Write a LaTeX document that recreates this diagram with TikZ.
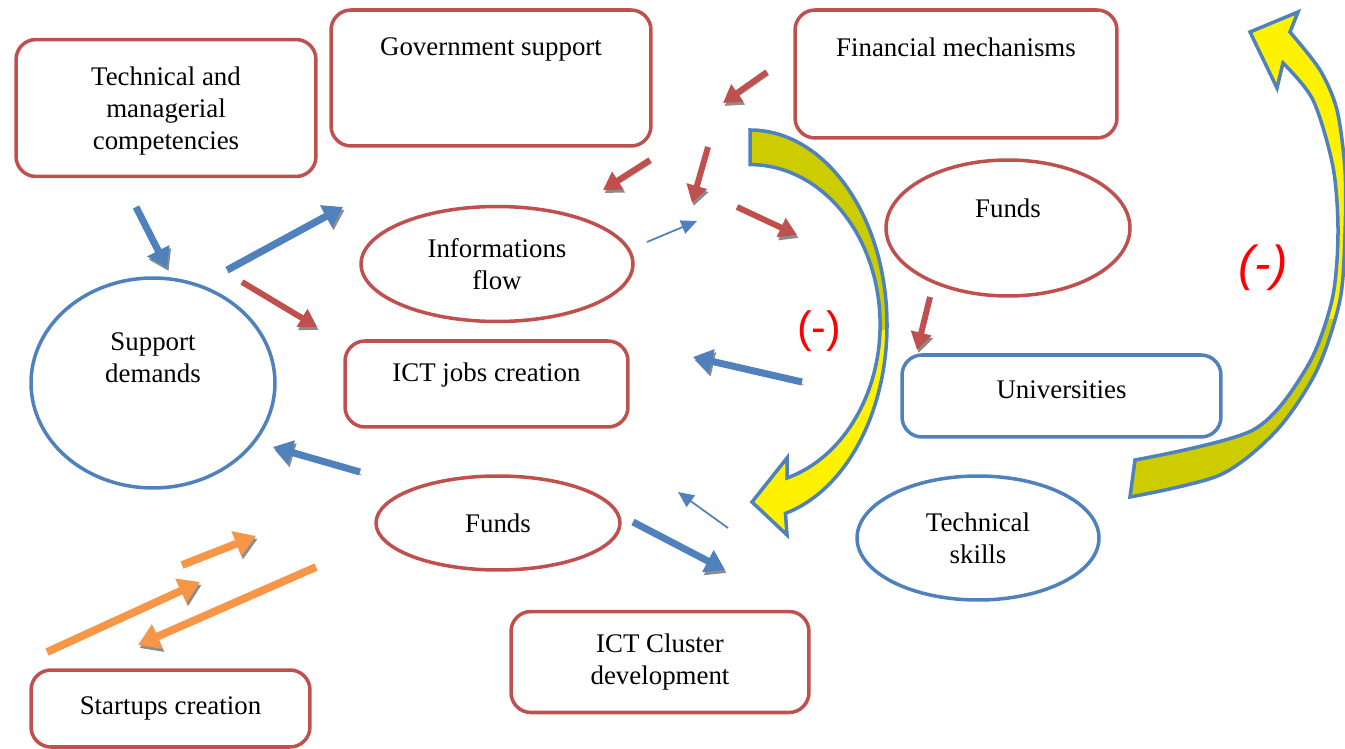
\documentclass[tikz,border=0pt]{standalone}
\usepackage{fontspec}
\setmainfont{Liberation Serif}
\newfontfamily\signfont{Liberation Sans}
\usetikzlibrary{arrows.meta,shapes.geometric}
\definecolor{bxred}{RGB}{192,80,77}
\definecolor{bxblue}{RGB}{79,129,189}
\definecolor{bxorange}{RGB}{247,150,70}
\definecolor{bxolive}{RGB}{204,204,0}
\def\boxfont{\fontsize{15.3}{18.2}\selectfont}
\tikzset{
  redbox/.style={draw=bxred, line width=2pt, rounded corners=0.4cm, align=center, font=\boxfont, inner sep=0pt},
  bluebox/.style={redbox, draw=bxblue},
  redell/.style={draw=bxred, line width=2pt, ellipse, align=center, font=\boxfont, inner sep=0pt},
  blueell/.style={redell, draw=bxblue},
  shadowed/.style={preaction={draw=black!45, transform canvas={shift={(0.9pt,-1.7pt)}}}},
  bluearr/.style={shadowed, draw=bxblue, line width=4pt, -{Triangle[width=13.5pt,length=11pt]}},
  redarr/.style={shadowed, draw=bxred, line width=3.4pt, -{Triangle[width=11.5pt,length=10pt]}},
  orangearr/.style={shadowed, draw=bxorange, line width=4.4pt, -{Triangle[width=14.5pt,length=12pt]}},
  thinarr/.style={draw=bxblue, line width=1pt, -{Triangle[width=8pt,length=9pt]}},
  loopedge/.style={draw=bxblue, line width=2pt, line join=miter},
  minus/.style={text=red, font=\signfont\fontsize{25}{30}\selectfont}
}

\begin{document}
\begin{tikzpicture}[x=0.02cm,y=-0.02cm]
				%%%%% START %%%%%
				\useasboundingbox (0,0) rectangle (1345,749);

				% boxes and ellipses
				\node[redbox, minimum width=6cm, minimum height=2.74cm, label={[anchor=center,yshift=-0.06cm,font=\boxfont,align=center]center:Technical and\\managerial\\competencies}] (tech) at (166,108) {};
				\node[redbox, minimum width=6.4cm, minimum height=2.72cm, label={[anchor=center,yshift=-0.82cm,font=\boxfont]north:Government support}] (gov) at (491,78) {};
				\node[redbox, minimum width=6.44cm, minimum height=2.56cm, label={[anchor=center,yshift=-0.78cm,font=\boxfont]north:Financial mechanisms}] (fin) at (956,74) {};
				\node[redell, minimum width=5.44cm, minimum height=2.3cm] (info) at (497,264) {Informations\\flow};
				\node[blueell, minimum width=4.88cm, minimum height=4.2cm, label={[anchor=center,yshift=0.5cm,font=\boxfont,align=center]center:Support\\demands}] (supp) at (153,383) {};
				\node[redbox, minimum width=5.66cm, minimum height=1.72cm, label={[anchor=center,yshift=0.17cm,font=\boxfont]center:ICT jobs creation}] (jobs) at (486.5,384) {};
				\node[redell, minimum width=4.88cm, minimum height=1.88cm] (fundsl) at (498,523) {Funds};
				\node[redbox, minimum width=5.58cm, minimum height=1.54cm] (start) at (170.5,708.5) {Startups creation};
				\node[redbox, minimum width=5.96cm, minimum height=2.02cm] (cluster) at (660,662) {ICT Cluster\\development};
				\node[redell, minimum width=4.88cm, minimum height=2.72cm, label={[anchor=center,yshift=0.4cm,font=\boxfont]center:Funds}] (fundsr) at (1008,228) {};
				\node[bluebox, minimum width=6.38cm, minimum height=1.64cm, label={[anchor=center,yshift=0.12cm,font=\boxfont]center:Universities}] (univ) at (1061.5,396) {};
				\node[blueell, minimum width=4.84cm, minimum height=2.48cm] (skills) at (978,538) {Technical\\skills};

				% left loop arrow
				\def\leftloop{(750,130) arc[start angle=-90,end angle=75,x radius=137,y radius=195] -- (787,535) -- (752,502) -- (787,458) -- (787,478) arc[start angle=73.5,end angle=-90,x radius=130,y radius=160] -- cycle}
				\fill[yellow] \leftloop;
				\begin{scope}
					\clip (700,100) rectangle (900,330);
					\fill[bxolive] \leftloop;
				\end{scope}
				\draw[loopedge] \leftloop;

				% right loop arrow
				\def\rightloop{(1130,497) -- plot[smooth] coordinates {(1130,497) (1220,475) (1277,430) (1317,370) (1340,300) (1345,233) (1345,170) (1337,110) (1320,70) (1290,32)} -- (1298,12) -- (1250,32) -- (1277,88) -- (1283,63) -- plot[smooth] coordinates {(1283,63) (1313,100) (1333,167) (1338,233) (1332,300) (1307,367) (1253,430) (1135,460)} -- cycle}
				\fill[yellow] \rightloop;
				\begin{scope}
					\clip (1100,320) rectangle (1360,520);
					\fill[bxolive] \rightloop;
				\end{scope}
				\draw[loopedge] \rightloop;

				\node[minus] (minusl) at (819,331) {(-)};
				\node[minus, font=\signfont\itshape\fontsize{28}{32}\selectfont] (minusr) at (1263,268) {(-)};

				% block arrows
				\draw[bluearr] (136,207) -- (167,268);
				\draw[bluearr] (227,270) -- (343,207);
				\draw[bluearr] (802,382) -- (693,357);
				\draw[bluearr] (360,472) -- (273,447);
				\draw[bluearr] (633,522) -- (725,570);
				\draw[thinarr] (647,242) -- (697,221);
				\draw[thinarr] (728,528) -- (678,492);

				\draw[redarr] (242,282) -- (317,327);
				\draw[redarr] (767,72) -- (723,103);
				\draw[redarr] (650,160) -- (603,190);
				\draw[redarr] (708,147) -- (692,203);
				\draw[redarr] (737,207) -- (797,235);
				\draw[redarr] (930,297) -- (917,350);

				\draw[orangearr] (47,652) -- (200,582);
				\draw[orangearr] (182,565) -- (256,536);
				\draw[orangearr] (316,567) -- (138,645);
				%%%%% START %%%%%
\end{tikzpicture}
\end{document}
